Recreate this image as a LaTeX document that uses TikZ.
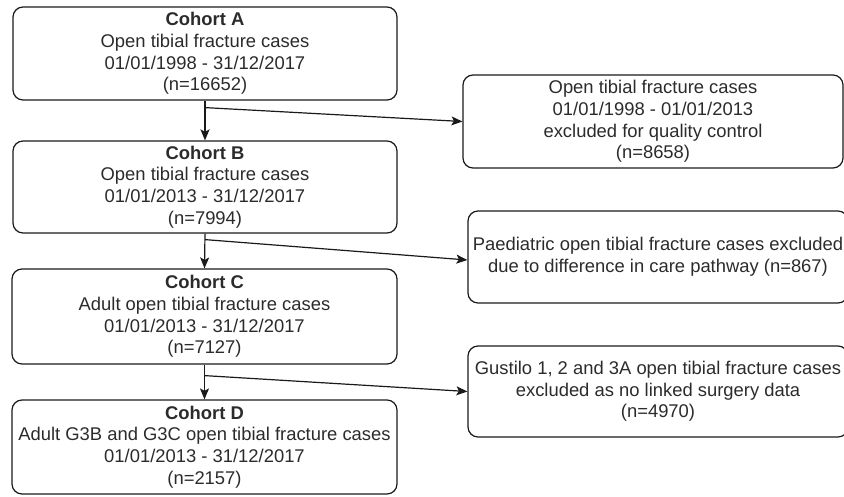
\documentclass[tikz,border=0pt]{standalone}
\usepackage{fontspec}
\setmainfont{Liberation Sans}
\usetikzlibrary{arrows.meta,calc}
\definecolor{linec}{HTML}{1A1A1A}
\definecolor{textc}{HTML}{2B2B2B}
\begin{document}
\begin{tikzpicture}[x=1pt,y=-1pt,
 box/.style={draw=linec, line width=1.2pt, rounded corners=10pt, align=center, inner sep=0pt, text=textc, font=\fontsize{18.4}{21.7}\selectfont},
 arr/.style={draw=linec, line width=1.2pt, -{Stealth[length=11pt,width=9pt,inset=2.5pt]}}]
\useasboundingbox (0,0) rectangle (844,496);
\clip (0,0) rectangle (844,496);
\node[box, minimum width=384pt, minimum height=93pt] (A) at (205,53.5) {\textbf{Cohort A}\\Open tibial fracture cases\\01/01/1998 - 31/12/2017\\(n=16652)};
\node[box, minimum width=384pt, minimum height=92pt] (B) at (205,187) {\textbf{Cohort B}\\Open tibial fracture cases\\01/01/2013 - 31/12/2017\\(n=7994)};
\node[box, minimum width=385pt, minimum height=95pt] (C) at (204.5,316.5) {\textbf{Cohort C}\\Adult open tibial fracture cases\\01/01/2013 - 31/12/2017\\(n=7127)};
\node[box, minimum width=385pt, minimum height=94pt] (D) at (204.5,447) {\textbf{Cohort D}\\Adult G3B and G3C open tibial fracture cases\\01/01/2013 - 31/12/2017\\(n=2157)};
\node[box, minimum width=380pt, minimum height=93pt] (E1) at (653,121.5) {Open tibial fracture cases\\01/01/1998 - 01/01/2013\\excluded for quality control\\(n=8658)};
\node[box, minimum width=380pt, minimum height=92pt] (E2) at (658,257) {Paediatric open tibial fracture cases excluded\\due to difference in care pathway (n=867)};
\node[box, minimum width=380pt, minimum height=91pt] (E3) at (658,391.5) {Gustilo 1, 2 and 3A open tibial fracture cases\\excluded as no linked surgery data\\(n=4970)};
\coordinate (ab) at ($(A.south)+(0,7)$);
\coordinate (bc) at ($(B.south)+(0,6)$);
\coordinate (cd) at ($(C.south)+(0,11)$);
\draw[arr, line width=1.8pt] (A.south) -- (B.north);
\draw[arr] (B.south) -- (C.north);
\draw[arr] (C.south) -- (D.north);
\draw[arr] (ab) -- (E1.west);
\draw[arr] (bc) -- ([yshift=-3pt]E2.west);
\draw[arr] (cd) -- (E3.west);
\end{tikzpicture}
\end{document}
